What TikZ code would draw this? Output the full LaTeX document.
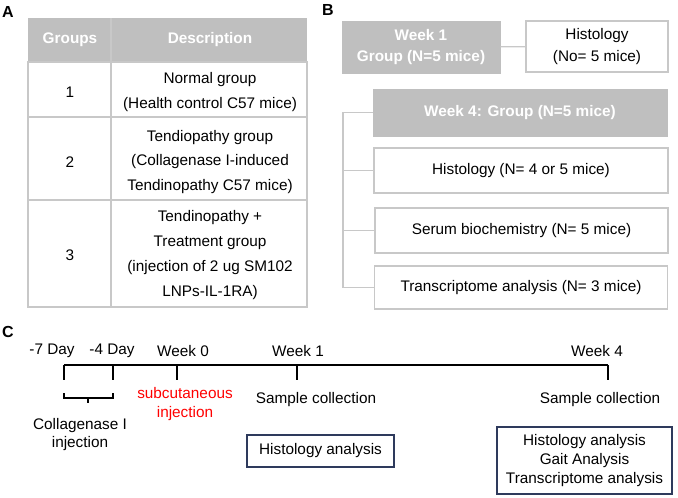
\documentclass[tikz,border=0pt]{standalone}
\usepackage{fontspec}
\setmainfont{Liberation Sans}
\usetikzlibrary{positioning}
\definecolor{hdgray}{HTML}{BFBFBF}
\definecolor{lngray}{HTML}{C8C8C8}
\definecolor{navy}{HTML}{2E3A5C}
\begin{document}
\begin{tikzpicture}[x=0.75pt,y=-0.75pt,every node/.style={inner sep=1pt,font=\fontsize{11.5}{18.7}\selectfont},
  tbl/.style={draw=lngray,line width=0.8pt},
  hd/.style={fill=hdgray,draw=hdgray,text=white,font=\fontsize{11.5}{16}\selectfont\bfseries,align=center},
  wbox/.style={draw=lngray,line width=0.9pt,fill=white,align=center},
  nbox/.style={draw=navy,line width=1pt,align=center},
  panel/.style={font=\fontsize{12}{14}\selectfont\bfseries}]
  \useasboundingbox (0,0) rectangle (678,497);
  % panel A
  \node[panel] (A) at (8,12) {A};
  \fill[hdgray] (28,18) rectangle (307,62);
  \draw[tbl] (28,62) rectangle (307,307);
  \draw[tbl] (111,18) -- (111,307);
  \draw[tbl] (28,117) -- (307,117) (28,200) -- (307,200);
  \node[text=white,font=\fontsize{11.5}{14}\selectfont\bfseries] (hg) at (70,40) {Groups};
  \node[text=white,font=\fontsize{11.5}{14}\selectfont\bfseries] (hdsc) at (210,40) {Description};
  \node (g1) at (70,92) {1};
  \node (g2) at (70,162) {2};
  \node (g3) at (70,255) {3};
  \node[align=center] (d1) at (210,92) {Normal group\\(Health control C57 mice)};
  \node[align=center] (d2) at (210,162) {Tendiopathy group\\(Collagenase I-induced\\Tendinopathy C57 mice)};
  \node[align=center] (d3) at (210,255) {Tendinopathy +\\Treatment group\\(injection of 2 ug SM102\\LNPs-IL-1RA)};
  % panel B
  \node[panel] (B) at (328,10) {B};
  \node[hd,minimum width=118.5pt,minimum height=39pt] (wk1) at (421,47) {Week 1\\Group (N=5 mice)};
  \node[wbox,minimum width=106.5pt,minimum height=38.25pt,font=\fontsize{11.5}{16}\selectfont] (h1) at (597,46.5) {Histology\\(No= 5 mice)};
  \draw[lngray,line width=0.9pt] (wk1) -- (h1);
  \node[hd,minimum width=220.5pt,minimum height=35.25pt] (wk4) at (520,112.5) {Week 4: Group (N=5 mice)};
  \node[wbox,minimum width=220.5pt,minimum height=33.75pt] (h4) at (521,170.5) {Histology (N= 4 or 5 mice)};
  \node[wbox,minimum width=219.75pt,minimum height=33.75pt] (sb) at (521.5,230.5) {Serum biochemistry (N= 5 mice)};
  \node[wbox,minimum width=219.75pt,minimum height=32.25pt] (ta) at (521,287.5) {Transcriptome analysis (N= 3 mice)};
  \coordinate (trk) at (343,112.5);
  \draw[lngray,line width=0.9pt] (wk4.west) -- (trk) |- (ta.west);
  \foreach \b in {h4,sb} \draw[lngray,line width=0.9pt] (\b.west) -- (343,0 |- \b.west);
  % panel C
  \node[panel] (C) at (8,332) {C};
  \coordinate (t0) at (64,365);
  \coordinate (t4) at (608,365);
  \draw[line width=0.9pt] (t0) -- (t4);
  \foreach \x/\lab/\lx in {64/-7 Day/52,113/-4 Day/112,177/Week 0/183,297/Week 1/298,608/Week 4/597}{
    \draw[line width=0.9pt] (\x,365) -- (\x,380);
    \node (L\x) at (\lx,351) {\lab};
  }
  \draw[line width=0.9pt] (64,393) -- (64,398) -- (113,398) -- (113,393) (88,398) -- (88,403);
  \node[align=center,font=\fontsize{11.5}{14}\selectfont] (coll) at (80,434.5) {Collagenase I\\injection};
  \node[align=center,text=red,font=\fontsize{11.5}{14}\selectfont] (sub) at (185,404) {subcutaneous\\injection};
  \node (sc1) at (316,400) {Sample collection};
  \node (sc4) at (600,400) {Sample collection};
  \node[nbox,minimum width=110.25pt,minimum height=24pt] (ha) at (320.5,451) {Histology analysis};
  \node[nbox,minimum width=131.25pt,minimum height=50.25pt,font=\fontsize{11.5}{14}\selectfont] (ra) at (584.5,460.5) {Histology analysis\\Gait Analysis\\Transcriptome analysis};
\end{tikzpicture}
\end{document}
